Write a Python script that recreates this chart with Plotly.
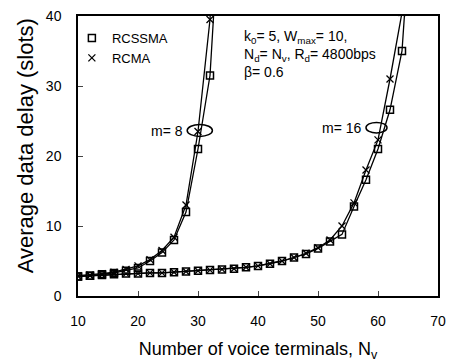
import plotly.graph_objects as go

# m = 8 curves
n_m8 = [10, 12, 14, 16, 18, 20, 22, 24, 26, 28, 30, 32, 34]
rcssma_m8 = [2.8, 2.9, 3.1, 3.3, 3.6, 4.0, 5.0, 6.2, 8.0, 12.0, 21.0, 31.5, 60.0]
rcma_m8 = [2.9, 3.0, 3.2, 3.4, 3.8, 4.3, 5.2, 6.5, 8.4, 13.0, 23.5, 39.5, 80.0]

# m = 16 curves
n_m16 = [10, 12, 14, 16, 18, 20, 22, 24, 26, 28, 30, 32, 34, 36, 38, 40, 42, 44,
         46, 48, 50, 52, 54, 56, 58, 60, 62, 64, 66]
rcssma_m16 = [2.8, 2.9, 3.0, 3.1, 3.2, 3.2, 3.3, 3.3, 3.4, 3.5, 3.6, 3.7, 3.8, 3.9,
              4.1, 4.3, 4.6, 5.0, 5.5, 6.0, 6.8, 7.8, 8.8, 12.8, 16.6, 21.0, 26.6,
              35.0, 60.0]
rcma_m16 = [2.8, 2.9, 3.0, 3.1, 3.2, 3.2, 3.3, 3.3, 3.4, 3.5, 3.6, 3.7, 3.8, 3.9,
            4.1, 4.3, 4.6, 5.0, 5.5, 6.1, 6.9, 8.0, 10.0, 13.3, 18.0, 22.3, 31.0,
            40.5, 70.0]

x_ticks = [10, 20, 30, 40, 50, 60, 70]
y_ticks = [0, 10, 20, 30, 40]

FONT = "Liberation Sans, Arial, sans-serif"
fig = go.Figure()

sq = dict(symbol="square-open", size=7, color="black", line=dict(width=1.5, color="black"))
xm = dict(symbol="x-thin-open", size=7, color="black", line=dict(width=1.3, color="black"))
ln = dict(color="black", width=1.3)

for n, vals in [(n_m8, rcssma_m8), (n_m16, rcssma_m16)]:
    fig.add_trace(go.Scatter(x=n, y=vals, mode="lines+markers", marker=sq, line=ln,
                             showlegend=False))
for n, vals in [(n_m8, rcma_m8), (n_m16, rcma_m16)]:
    fig.add_trace(go.Scatter(x=n, y=vals, mode="lines+markers", marker=xm, line=ln,
                             showlegend=False))

# legend entries (markers only)
fig.add_trace(go.Scatter(x=[None], y=[None], mode="markers", name="RCSSMA", marker=sq))
fig.add_trace(go.Scatter(x=[None], y=[None], mode="markers", name="RCMA", marker=xm))

fig.update_layout(
    width=456, height=362,
    margin=dict(l=78, r=18, t=16, b=66),
    plot_bgcolor="white", paper_bgcolor="white",
    font=dict(family=FONT, color="black", size=14),
    legend=dict(x=-0.017, y=0.975, xanchor="left", yanchor="top",
                bgcolor="rgba(0,0,0,0)", font=dict(size=13), tracegroupgap=0,
                itemwidth=30),
    xaxis=dict(range=[10, 70], tickvals=x_ticks, ticks="inside", ticklen=5,
               showline=True, linecolor="black", linewidth=1.5, mirror=True,
               showgrid=False, zeroline=False, tickfont=dict(size=14),
               ticklabelstandoff=11, automargin=False,
               title=dict(text="Number of voice terminals, N<sub>v</sub>",
                          font=dict(size=18), standoff=25)),
    yaxis=dict(range=[0, 40], tickvals=y_ticks, ticks="inside", ticklen=5,
               showline=True, linecolor="black", linewidth=1.5, mirror=True,
               showgrid=False, zeroline=False, tickfont=dict(size=14),
               ticklabelstandoff=12, automargin=False),
)

# y-axis title (clipped at the top as in the reference)
fig.add_annotation(text="Average data delay (slots)", textangle=-90,
                   xref="paper", yref="paper", x=-0.145, y=0.075,
                   xanchor="center", yanchor="bottom", showarrow=False,
                   font=dict(size=22))

fig.add_annotation(text="k<sub>0</sub>= 5, W<sub>max</sub>= 10,<br>"
                        "N<sub>d</sub>= N<sub>v</sub>, R<sub>d</sub>= 4800bps<br>"
                        "β= 0.6",
                   xref="paper", yref="paper", x=0.455, y=0.963,
                   xanchor="left", yanchor="top", align="left", showarrow=False,
                   font=dict(size=14))

fig.add_annotation(text="m= 8", xref="x", yref="y", x=27.8, y=23.6, xanchor="right",
                   showarrow=False, font=dict(size=14))
fig.add_annotation(text="m= 16", xref="x", yref="y", x=57.6, y=24.0, xanchor="right",
                   showarrow=False, font=dict(size=14))

fig.add_shape(type="circle", xref="x", yref="y", x0=28.2, x1=32.4, y0=22.8, y1=24.5,
              line=dict(color="black", width=1.5))
fig.add_shape(type="circle", xref="x", yref="y", x0=58.0, x1=61.5, y0=23.3, y1=24.8,
              line=dict(color="black", width=1.5))

fig.write_html("out.html")
